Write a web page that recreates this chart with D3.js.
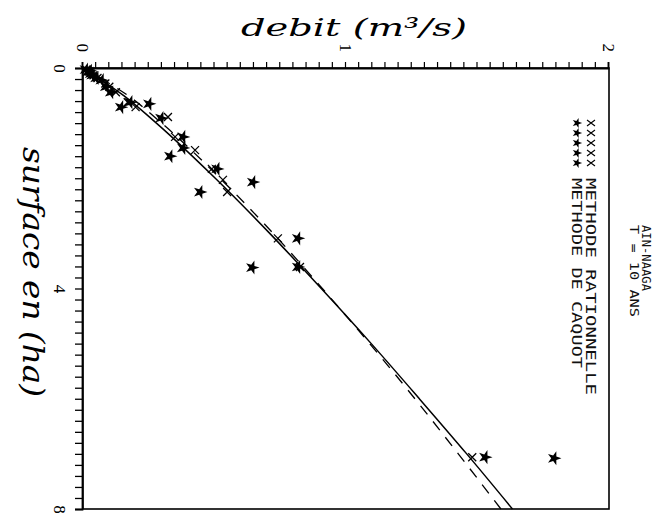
<!DOCTYPE html>
<html>
<head>
<meta charset="utf-8">
<script src="https://cdn.jsdelivr.net/npm/d3@7"></script>
<style>
  body { margin: 0; background: #fff; }
  svg { display: block; }
</style>
</head>
<body>
<div id="chart"></div>
<script>
// values (surface in ha, debit in m3/s)
const caquotArea = [0.03, 0.05, 0.07, 0.10, 0.13, 0.18, 0.22, 0.34, 0.44, 0.62, 0.65, 0.71, 0.91, 1.25, 1.45, 1.60, 1.83, 2.07, 2.25, 3.09, 3.62, 3.61, 7.06, 7.08];
const caquotFlow = [0.010, 0.025, 0.020, 0.030, 0.035, 0.050, 0.070, 0.087, 0.106, 0.179, 0.251, 0.144, 0.297, 0.380, 0.380, 0.331, 0.510, 0.646, 0.445, 0.817, 0.643, 0.817, 1.529, 1.791];

const rationArea = [0.03, 0.07, 0.13, 0.18, 0.28, 0.34, 0.44, 0.62, 0.71, 0.89, 1.25, 1.49, 1.83, 2.03, 2.25, 3.09, 3.61, 7.06];
const rationFlow = [0.012, 0.025, 0.040, 0.055, 0.085, 0.100, 0.125, 0.170, 0.200, 0.323, 0.350, 0.426, 0.490, 0.532, 0.548, 0.741, 0.825, 1.480];

// fitted curves as drawn
const solidArea = [0, 0.5, 1, 2, 3, 4, 5, 6, 7, 8];
const solidFlow = [0, 0.155, 0.279, 0.503, 0.710, 0.906, 1.096, 1.279, 1.459, 1.633];
const dashArea = [0, 0.5, 1, 2, 3, 4, 5, 6, 7, 8];
const dashFlow = [0, 0.171, 0.299, 0.521, 0.723, 0.910, 1.090, 1.262, 1.427, 1.589];

const areaTicks = [0, 4, 8];
const flowTicks = [0, 1, 2];
const legendLabels = ["METHODE RATIONNELLE", "METHODE DE CAQUOT"];
const titleLines = ["AIN-NAAGA", "T = 10 ANS"];

const width = 661;
const height = 520;

// the figure is a normal plot turned a quarter turn clockwise
const W = 441;   // surface axis length
const H = 526;   // debit axis length

const svg = d3.select("#chart")
  .append("svg")
  .attr("width", width)
  .attr("height", height);

const g = svg.append("g")
  .attr("transform", "translate(609,68) rotate(90)");

const x = d3.scaleLinear().domain([0, 8]).range([0, W]);
const y = d3.scaleLinear().domain([0, 2]).range([H, 0]);

const serif = "'DejaVu Serif', 'Liberation Serif', serif";
const mono = "'DejaVu Sans Mono', monospace";

// frame
g.append("rect")
  .attr("x", 0).attr("y", 0)
  .attr("width", W).attr("height", H)
  .attr("fill", "none")
  .attr("stroke", "#000")
  .attr("stroke-width", 1.6);

// surface axis (left on screen)
const areaMinor = d3.range(0, 8.001, 0.2);
g.append("g")
  .attr("transform", `translate(0,${H})`)
  .call(
    d3.axisBottom(x)
      .tickValues(areaMinor)
      .tickSize(8)
      .tickPadding(9)
      .tickFormat((d) => (areaTicks.some((t) => Math.abs(t - d) < 1e-6) ? d3.format("d")(d) : ""))
  )
  .call((a) => a.select(".domain").attr("stroke-width", 1.8))
  .call((a) => a.selectAll(".tick line").attr("stroke-width", 1.3))
  .call((a) => a.selectAll(".tick text").attr("font-family", "'Liberation Serif', serif").attr("font-size", 17).attr("fill", "#000"));

// debit axis (top on screen)
const flowMinor = d3.range(0, 2.0001, 0.05);
g.append("g")
  .call(
    d3.axisLeft(y)
      .tickValues(flowMinor)
      .tickSize(6)
      .tickPadding(10)
      .tickFormat((d) => (flowTicks.some((t) => Math.abs(t - d) < 1e-6) ? d3.format("d")(d) : ""))
  )
  .call((a) => a.select(".domain").attr("stroke-width", 1.8))
  .call((a) => a.selectAll(".tick line").attr("stroke-width", 1.2))
  .call((a) => a.selectAll(".tick text").attr("font-family", "'Liberation Serif', serif").attr("font-size", 17).attr("fill", "#000"));

// axis titles
g.append("text")
  .attr("transform", `translate(-32,${H / 2 - 8}) rotate(-90)`)
  .attr("text-anchor", "middle")
  .attr("font-family", serif)
  .attr("font-style", "italic")
  .attr("font-size", 25)
  .attr("textLength", 226)
  .attr("lengthAdjust", "spacingAndGlyphs")
  .text("debit (m³/s)");

g.append("text")
  .attr("x", 204)
  .attr("y", H + 60)
  .attr("text-anchor", "middle")
  .attr("font-family", serif)
  .attr("font-style", "italic")
  .attr("font-size", 29)
  .attr("textLength", 250)
  .attr("lengthAdjust", "spacingAndGlyphs")
  .text("surface en (ha)");

// fitted curves
const line = d3.line()
  .x((d) => x(d[0]))
  .y((d) => y(d[1]))
  .curve(d3.curveMonotoneX);

g.append("path")
  .datum(d3.zip(solidArea, solidFlow))
  .attr("d", line)
  .attr("fill", "none")
  .attr("stroke", "#000")
  .attr("stroke-width", 1.5);

g.append("path")
  .datum(d3.zip(dashArea, dashFlow))
  .attr("d", line)
  .attr("fill", "none")
  .attr("stroke", "#000")
  .attr("stroke-width", 1.3)
  .attr("stroke-dasharray", "11,9");

// markers
const star = d3.symbol().type(d3.symbolStar).size(62);
const cross = "M-4,-4L4,4M-4,4L4,-4";

g.selectAll("path.cross")
  .data(d3.zip(rationArea, rationFlow))
  .enter()
  .append("path")
  .attr("class", "cross")
  .attr("transform", (d) => `translate(${x(d[0])},${y(d[1])})`)
  .attr("d", cross)
  .attr("stroke", "#000")
  .attr("stroke-width", 1.3)
  .attr("fill", "none");

g.selectAll("path.star")
  .data(d3.zip(caquotArea, caquotFlow))
  .enter()
  .append("path")
  .attr("class", "star")
  .attr("transform", (d) => `translate(${x(d[0])},${y(d[1])})`)
  .attr("d", star)
  .attr("fill", "#000");

// title block
titleLines.forEach((t, i) => {
  g.append("text")
    .attr("x", 157)
    .attr("y", -33 + i * 12)
    .attr("font-family", mono)
    .attr("font-size", 12)
    .attr("textLength", i === 0 ? 66 : 92)
    .attr("lengthAdjust", "spacingAndGlyphs")
    .attr("fill", "#111")
    .text(t);
});

// legend
const legend = g.append("g");
legendLabels.forEach((label, i) => {
  const v = 18 + i * 14;
  for (let k = 0; k < 5; k++) {
    const px = 55 + k * 10;
    if (i === 0) {
      legend.append("path")
        .attr("transform", `translate(${px},${v})`)
        .attr("d", "M-3,-4L3,4M-3,4L3,-4")
        .attr("stroke", "#000")
        .attr("stroke-width", 1.1)
        .attr("fill", "none");
    } else {
      legend.append("path")
        .attr("transform", `translate(${px},${v})`)
        .attr("d", d3.symbol().type(d3.symbolStar).size(30))
        .attr("fill", "#000");
    }
  }
  legend.append("text")
    .attr("x", 110)
    .attr("y", v + 5.5)
    .attr("font-family", mono)
    .attr("font-size", 14)
    .attr("textLength", i === 0 ? 217 : 190)
    .attr("lengthAdjust", "spacingAndGlyphs")
    .attr("fill", "#111")
    .text(label);
});
</script>
</body>
</html>
